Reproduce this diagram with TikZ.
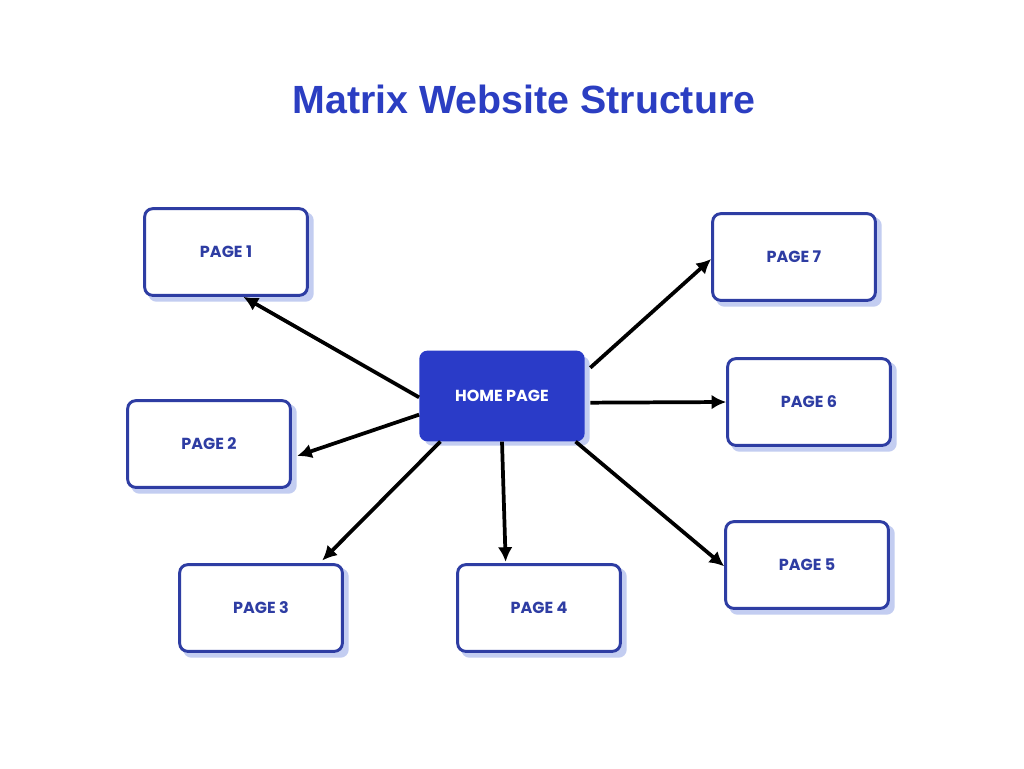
\documentclass[tikz,border=0pt]{standalone}
\usepackage{fontspec}
\setmainfont{Liberation Sans}
\newfontfamily\popfont{Poppins}
\usetikzlibrary{arrows.meta}
\definecolor{titleblue}{HTML}{2B3EC2}
\definecolor{homeblue}{HTML}{2A3BC8}
\definecolor{edgeblue}{HTML}{2E3DA3}
\definecolor{shadowblue}{HTML}{C3CDF1}
\tikzset{
  pagebox/.style={draw=edgeblue, line width=2.2pt, fill=white, rounded corners=6pt,
    minimum width=122pt, minimum height=65pt, inner sep=0pt,
    font=\popfont\bfseries\fontsize{12}{14}\selectfont, text=edgeblue},
  homebox/.style={fill=homeblue, draw=none, rounded corners=6pt,
    minimum width=124pt, minimum height=68pt, inner sep=0pt,
    font=\popfont\bfseries\fontsize{12}{14}\selectfont, text=white},
  shadowbox/.style={fill=shadowblue, draw=none, rounded corners=6pt,
    minimum width=124pt, minimum height=67pt, inner sep=0pt},
  conn/.style={line width=2.8pt, -{Latex[length=11pt,width=11pt]}, black}
}
\begin{document}
\begin{tikzpicture}[x=0.75pt,y=-0.75pt]
\useasboundingbox[fill=white] (0,0) rectangle (1024,768);
\node[font=\bfseries\fontsize{29.5}{34}\selectfont, text=titleblue] (title) at (524,99) {Matrix Website Structure};
% shadows
\foreach \x/\y in {226/252, 794/257, 502/396, 809/402, 209/444, 807/565, 261/608, 539/608}
  \node[shadowbox] at (\x+5,\y+5) {};
\node[pagebox] (p1) at (226,252) {PAGE 1};
\node[pagebox] (p7) at (794,257) {PAGE 7};
\node[homebox] (home) at (502,396) {HOME PAGE};
\node[pagebox] (p6) at (809,402) {PAGE 6};
\node[pagebox] (p2) at (209,444) {PAGE 2};
\node[pagebox] (p5) at (807,565) {PAGE 5};
\node[pagebox] (p3) at (261,608) {PAGE 3};
\node[pagebox] (p4) at (539,608) {PAGE 4};
\draw[conn] ([yshift=-1pt]home.west) -- ([xshift=13pt]p1.south);
\draw[conn] ([yshift=-14pt]home.west) -- ([xshift=4pt,yshift=-9pt]p2.east);
\draw[conn] ([xshift=16pt]home.south west) -- ([xshift=108pt,yshift=2pt]p3.north west);
\draw[conn] (home.south) -- ([xshift=-25pt,yshift=1pt]p4.north);
\draw[conn] ([xshift=-7pt]home.south east) -- ([yshift=-1pt]p5.west);
\draw[conn] ([xshift=4pt,yshift=-5pt]home.east) -- (p6.west);
\draw[conn] ([xshift=4pt,yshift=-13pt]home.north east) -- ([yshift=-1.5pt]p7.west);
\end{tikzpicture}
\end{document}
